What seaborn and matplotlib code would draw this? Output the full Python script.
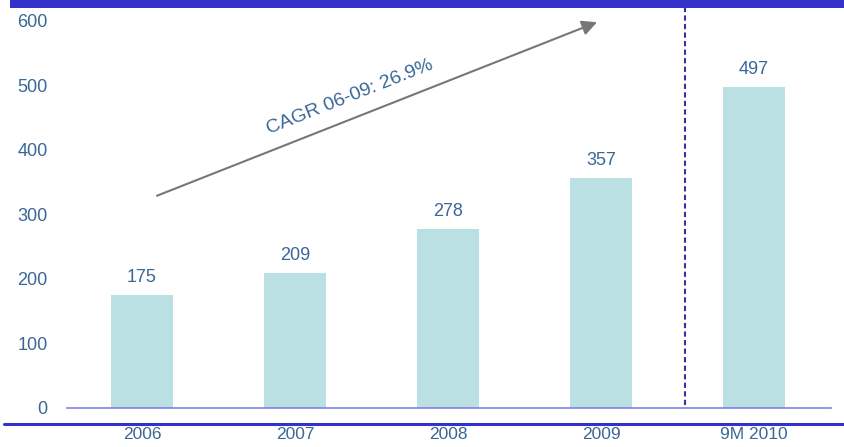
import matplotlib
matplotlib.use("Agg")
import matplotlib.pyplot as plt
from matplotlib.lines import Line2D
from matplotlib.patches import Rectangle
import seaborn as sns
import pandas as pd

categories = ["2006", "2007", "2008", "2009", "9M 2010"]
values = [175, 209, 278, 357, 497]
yticks = [0, 100, 200, 300, 400, 500, 600]
cagr_label = "CAGR 06-09: 26.9%"

sns.set_style("white")
plt.rcParams['font.family'] = ['Liberation Sans', 'DejaVu Sans']

txt_color = "#3A6797"
bar_color = "#BAE0E3"
dark_blue = "#3333CC"

fig = plt.figure(figsize=(8.44, 4.47), dpi=100)
W, H = 844, 447
ax = fig.add_axes([67 / W, (H - 408) / H, (831 - 67) / W, 400 / H])

df = pd.DataFrame({"cat": categories, "val": values})
sns.barplot(data=df, x="cat", y="val", order=categories, color=bar_color,
            width=0.4, saturation=1, ax=ax, edgecolor="none")

ax.set_xlim(-0.49, 4.503)
ax.set_ylim(0, 620)
ax.set_xlabel("")
ax.set_ylabel("")
for s in ["top", "left", "right"]:
    ax.spines[s].set_visible(False)
ax.spines["bottom"].set_color("#8080E0")
ax.spines["bottom"].set_linewidth(1.2)
ax.set_yticks(yticks)
ax.set_yticklabels([str(t) for t in yticks], color=txt_color, fontsize=13)
ax.tick_params(axis="y", length=0, pad=14)
ax.tick_params(axis="x", length=0, pad=14, labelsize=12.5, labelcolor=txt_color)

for i, v in enumerate(values):
    ax.annotate(str(v), (i, v), xytext=(0, 6.5), textcoords="offset points",
                ha="center", va="bottom", color=txt_color, fontsize=13)

# dashed separator
ax.plot([3.55, 3.55], [4, 620], color="#333399", lw=1.5, ls=(0, (2.5, 1.6)), clip_on=False)

# CAGR arrow
ax.annotate("", xy=(2.974, 598), xytext=(0.098, 329),
            arrowprops=dict(arrowstyle="-|>,head_length=0.9,head_width=0.45",
                            color="#777777", lw=1.5, shrinkA=0, shrinkB=0),
            annotation_clip=False)
ax.text(1.36, 482, cagr_label, rotation=21.6, rotation_mode="anchor",
        ha="center", va="center", color=txt_color, fontsize=14)

# decorative bands
fig.add_artist(Rectangle((10 / W, (H - 8) / H), (W - 10) / W, 8 / H,
                         transform=fig.transFigure, color=dark_blue, lw=0))
fig.add_artist(Line2D([4 / W, 1], [(H - 424) / H, (H - 424) / H],
                      transform=fig.transFigure, color=dark_blue, lw=2.2))

fig.savefig("out.png", dpi=100)
